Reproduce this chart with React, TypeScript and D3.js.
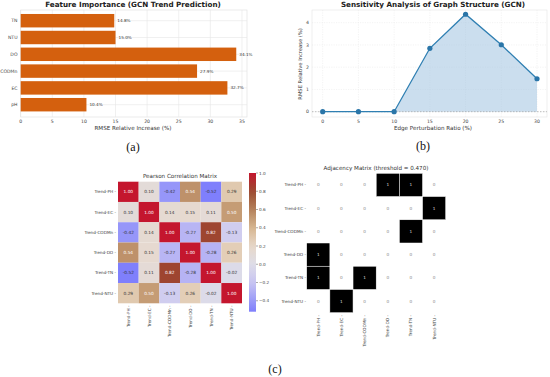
import React from "react";
import * as d3 from "d3";

// (a) feature importance
const features = ["TN", "NTU", "DO", "CODMn", "EC", "pH"];
const importance = [14.8, 15.0, 34.1, 27.9, 32.7, 10.4];
const impTicks = [0, 5, 10, 15, 20, 25, 30, 35];

// (b) sensitivity
const perturbation = [0, 5, 10, 15, 20, 25, 30];
const rmseIncrease = [0, 0, 0, 2.85, 4.38, 3.01, 1.48];
const sensYTicks = [0, 1, 2, 3, 4];

// (c) correlation / adjacency
const trendVars = ["Trend-PH", "Trend-EC", "Trend-CODMn", "Trend-DO", "Trend-TN", "Trend-NTU"];
const corrRows = [
  [1.0, 0.1, -0.42, 0.54, -0.52, 0.29],
  [0.1, 1.0, 0.14, 0.15, 0.11, 0.5],
  [-0.42, 0.14, 1.0, -0.27, 0.82, -0.13],
  [0.54, 0.15, -0.27, 1.0, -0.28, 0.26],
  [-0.52, 0.11, 0.82, -0.28, 1.0, -0.02],
  [0.29, 0.5, -0.13, 0.26, -0.02, 1.0],
];
const threshold = 0.47;
const cbarTicks = [1.0, 0.8, 0.6, 0.4, 0.2, 0.0, -0.2, -0.4];

const font = "DejaVu Sans, sans-serif";
const gridColor = "#e6e6e6";
const tickColor = "#444";

const corrColor = d3
  .scaleLinear<string>()
  .domain([-0.52, -0.4, -0.2, 0.0, 0.2, 0.4, 0.6, 0.8, 1.0])
  .range(["#7f7ffc", "#9a9af8", "#c8c4f2", "#dedde8", "#e8d8c8", "#d6b690", "#b4815a", "#9a4a30", "#c4162e"]);

const FeaturePanel = () => {
  const x = d3.scaleLinear().domain([0, 35.8]).range([20.7, 247]);
  const y = d3.scaleBand().domain(features).range([12.3, 113.1]).paddingInner(0.2).paddingOuter(0.1);
  return (
    <g fontFamily={font}>
      <text x={133} y={7} textAnchor="middle" fontSize={7.2} fontWeight="bold" fill="#222">
        Feature Importance (GCN Trend Prediction)
      </text>
      <rect x={20.7} y={10} width={226.3} height={107} fill="white" stroke="#ddd" strokeWidth={0.6} />
      {impTicks.map(t => (
        <g key={t}>
          <line x1={x(t)} x2={x(t)} y1={10} y2={117} stroke={gridColor} strokeWidth={0.6} />
          <text x={x(t)} y={123} textAnchor="middle" fontSize={4.6} fill={tickColor}>{t}</text>
        </g>
      ))}
      {features.map((f, i) => {
        const yc = y(f)! + y.bandwidth() / 2;
        return (
          <g key={f}>
            <line x1={20.7} x2={247} y1={yc} y2={yc} stroke={gridColor} strokeWidth={0.6} />
            <rect x={x(0)} y={y(f)} width={x(importance[i]) - x(0)} height={y.bandwidth()} fill="#d4600e" />
            <text x={x(importance[i]) + 3} y={yc + 1.5} fontSize={4.2} fill="#333">
              {importance[i].toFixed(1)}%
            </text>
            <text x={17.5} y={yc + 1.6} textAnchor="end" fontSize={4.6} fill={tickColor}>{f}</text>
          </g>
        );
      })}
      <text x={133} y={130} textAnchor="middle" fontSize={5.6} fill="#333">RMSE Relative Increase (%)</text>
    </g>
  );
};

const SensitivityPanel = () => {
  const x = d3.scaleLinear().domain([0, 30]).range([322.7, 537]);
  const y = d3.scaleLinear().domain([0, 4]).range([111.7, 22.7]);
  const pts = perturbation.map((p, i) => [p, rmseIncrease[i]] as [number, number]);
  const line = d3.line<[number, number]>().x(d => x(d[0])).y(d => y(d[1]));
  const area = d3.area<[number, number]>().x(d => x(d[0])).y0(y(0)).y1(d => y(d[1]));
  return (
    <g fontFamily={font}>
      <text x={433} y={7} textAnchor="middle" fontSize={7.2} fontWeight="bold" fill="#222">
        Sensitivity Analysis of Graph Structure (GCN)
      </text>
      <rect x={312} y={10} width={235} height={107} fill="white" stroke="#e4e4e4" strokeWidth={0.6} />
      {perturbation.map(t => (
        <g key={t}>
          <line x1={x(t)} x2={x(t)} y1={10} y2={117} stroke={gridColor} strokeWidth={0.5} strokeDasharray="1.2,1.2" />
          <text x={x(t)} y={123} textAnchor="middle" fontSize={4.6} fill={tickColor}>{t}</text>
        </g>
      ))}
      {sensYTicks.map(t => (
        <g key={t}>
          <line x1={312} x2={547} y1={y(t)} y2={y(t)} stroke={gridColor} strokeWidth={0.5} strokeDasharray="1.2,1.2" />
          <text x={309} y={y(t) + 1.6} textAnchor="end" fontSize={4.6} fill={tickColor}>{t}</text>
        </g>
      ))}
      <path d={area(pts)!} fill="#a9c8e3" fillOpacity={0.6} />
      <line x1={312} x2={547} y1={y(0)} y2={y(0)} stroke="#999" strokeWidth={0.6} strokeDasharray="1.5,1.5" />
      <path d={line(pts)!} fill="none" stroke="#2f7fb2" strokeWidth={1.3} />
      {pts.map((d, i) => (
        <circle key={i} cx={x(d[0])} cy={y(d[1])} r={2.6} fill="#2a75a8" />
      ))}
      <text x={433} y={130} textAnchor="middle" fontSize={5.6} fill="#333">Edge Perturbation Ratio (%)</text>
      <text transform="translate(302,64) rotate(-90)" textAnchor="middle" fontSize={5.2} fill="#333">
        RMSE Relative Increase (%)
      </text>
    </g>
  );
};

const CorrPanel = () => {
  const x = d3.scaleBand().domain(trendVars).range([118, 242]);
  const y = d3.scaleBand().domain(trendVars).range([181.7, 303.3]);
  const cb = d3.scaleLinear().domain([-0.52, 1.0]).range([311.7, 173]);
  const stops = d3.range(0, 1.0001, 0.05).map(t => -0.52 + t * 1.52);
  return (
    <g fontFamily={font}>
      <text x={180} y={178} textAnchor="middle" fontSize={5.6} fill="#333">Pearson Correlation Matrix</text>
      {corrRows.map((row, i) =>
        row.map((v, j) => (
          <g key={`${i}-${j}`}>
            <rect x={x(trendVars[j])} y={y(trendVars[i])} width={x.bandwidth()} height={y.bandwidth()} fill={corrColor(v)} />
            <text
              x={x(trendVars[j])! + x.bandwidth() / 2}
              y={y(trendVars[i])! + y.bandwidth() / 2 + 1.5}
              textAnchor="middle"
              fontSize={4.3}
              fill={Math.abs(v) > 0.47 && v > 0 ? "#fff" : "#333"}
            >
              {v.toFixed(2)}
            </text>
          </g>
        ))
      )}
      {trendVars.map(v => (
        <g key={v}>
          <text x={116} y={y(v)! + y.bandwidth() / 2 + 1.5} textAnchor="end" fontSize={4.2} fill={tickColor}>
            {v} -
          </text>
          <text
            transform={`translate(${x(v)! + x.bandwidth() / 2 + 1.5},305.5) rotate(-90)`}
            textAnchor="end"
            fontSize={4.2}
            fill={tickColor}
          >
            {v} -
          </text>
        </g>
      ))}
      <defs>
        <linearGradient id="cbar" x1="0" y1="1" x2="0" y2="0">
          {stops.map((s, i) => (
            <stop key={i} offset={`${(i / (stops.length - 1)) * 100}%`} stopColor={corrColor(s)} />
          ))}
        </linearGradient>
      </defs>
      <rect x={249} y={173} width={7} height={138.7} fill="url(#cbar)" />
      {cbarTicks.map(t => (
        <g key={t}>
          <line x1={256} x2={258} y1={cb(t)} y2={cb(t)} stroke="#555" strokeWidth={0.5} />
          <text x={259} y={cb(t) + 1.5} fontSize={4.2} fill={tickColor}>
            {t < 0 ? "\u2212" + Math.abs(t).toFixed(1) : t.toFixed(1)}
          </text>
        </g>
      ))}
    </g>
  );
};

const AdjPanel = () => {
  const x = d3.scaleBand().domain(trendVars).range([306.7, 445.7]);
  const y = d3.scaleBand().domain(trendVars).range([173.3, 312.7]);
  const adj = corrRows.map((row, i) => row.map((v, j) => (i !== j && Math.abs(v) > threshold ? 1 : 0)));
  return (
    <g fontFamily={font}>
      <text x={376} y={170} textAnchor="middle" fontSize={5.6} fill="#333">
        Adjacency Matrix (threshold = {threshold.toFixed(3)})
      </text>
      {adj.map((row, i) =>
        row.map((v, j) => (
          <g key={`${i}-${j}`}>
            {v === 1 && (
              <rect x={x(trendVars[j])} y={y(trendVars[i])} width={x.bandwidth()} height={y.bandwidth()} fill="#000" stroke="#fff" strokeWidth={0.5} />
            )}
            <text
              x={x(trendVars[j])! + x.bandwidth() / 2}
              y={y(trendVars[i])! + y.bandwidth() / 2 + 1.5}
              textAnchor="middle"
              fontSize={4.2}
              fill={v === 1 ? "#ddd" : "#888"}
            >
              {v}
            </text>
          </g>
        ))
      )}
      {trendVars.map(v => (
        <g key={v}>
          <text x={306} y={y(v)! + y.bandwidth() / 2 + 1.5} textAnchor="end" fontSize={4.2} fill={tickColor}>
            {v} -
          </text>
          <text
            transform={`translate(${x(v)! + x.bandwidth() / 2 + 1.5},315) rotate(-90)`}
            textAnchor="end"
            fontSize={4.2}
            fill={tickColor}
          >
            {v} -
          </text>
        </g>
      ))}
    </g>
  );
};

const App = () => {
  return (
    <svg
      width={550}
      height={377}
      style={{ position: "absolute", left: 0, top: 0, background: "white" }}
    >
      <rect width={550} height={377} fill="white" />
      <FeaturePanel />
      <SensitivityPanel />
      <CorrPanel />
      <AdjPanel />
      <g fontFamily="Liberation Serif, serif" fontSize={12} fill="#111" textAnchor="middle">
        <text x={133} y={151}>(a)</text>
        <text x={423} y={150}>(b)</text>
        <text x={275} y={373}>(c)</text>
      </g>
    </svg>
  );
};

export default App;
